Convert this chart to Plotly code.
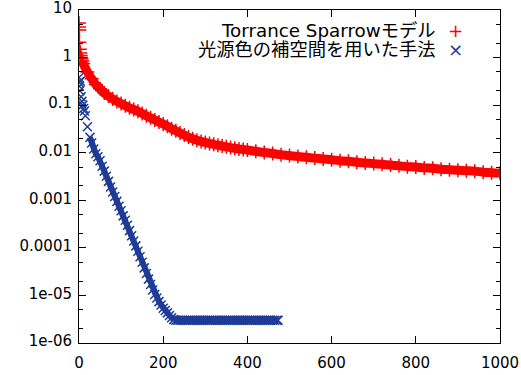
import plotly.graph_objects as go

# ---- data ----
red_x = [0, 0, 1, 1, 2, 3, 4, 5, 6, 8,
         10, 20, 30, 40, 50, 60, 70, 80, 90, 100,
         110, 120, 130, 140, 150, 160, 170, 180, 190, 200,
         210, 220, 230, 240, 250, 260, 270, 280, 290, 300,
         310, 320, 330, 340, 350, 360, 370, 380, 390, 400,
         420, 440, 460, 480, 500, 520, 540, 560, 580, 600,
         620, 640, 660, 680, 700, 720, 740, 760, 780, 800,
         820, 840, 860, 880, 900, 920, 940, 960, 980, 1000]
red_y = [5.3, 4.4, 3.8, 2.1, 1.5, 1.25, 1.1, 1.0, 0.95, 0.85,
         0.75, 0.50, 0.36, 0.27, 0.22, 0.18, 0.155, 0.135, 0.12, 0.108,
         0.097, 0.088, 0.081, 0.074, 0.067, 0.060, 0.054, 0.049, 0.044, 0.040,
         0.036, 0.032, 0.029, 0.026, 0.0235, 0.0213, 0.0196, 0.0183, 0.0173, 0.0164,
         0.0157, 0.0150, 0.0144, 0.0138, 0.0133, 0.0128, 0.0124, 0.0120, 0.0117, 0.0114,
         0.0107, 0.0101, 0.0096, 0.0091, 0.0087, 0.0083, 0.0080, 0.0077, 0.0074, 0.0071,
         0.0068, 0.0066, 0.0063, 0.0061, 0.0059, 0.0057, 0.0055, 0.0053, 0.0051, 0.0050,
         0.0048, 0.0047, 0.0045, 0.0044, 0.0043, 0.0042, 0.0041, 0.0039, 0.0038, 0.0037]

blue_x = [0, 0, 1, 2, 3, 5, 7, 9, 11, 13,
          15, 20, 26, 30, 35, 40, 45, 50, 55, 60,
          65, 70, 75, 80, 85, 90, 95, 100, 105, 110,
          115, 120, 125, 130, 135, 140, 145, 150, 155, 160,
          165, 170, 175, 180, 185, 190, 195, 200, 205, 210,
          215, 220, 225, 230, 235, 240, 245, 250, 255, 260,
          265, 270, 275, 280, 285, 290, 295, 300, 305, 310,
          315, 320, 325, 330, 335, 340, 345, 350, 355, 360,
          365, 370, 375, 380, 385, 390, 395, 400, 405, 410,
          415, 420, 425, 430, 435, 440, 445, 450, 455, 460,
          465, 470, 473]
blue_y = [0.38, 0.30, 0.25, 0.20, 0.32, 0.15, 0.12, 0.10, 0.085, 0.075,
          0.06, 0.035, 0.021, 0.016, 0.012, 0.0095, 0.0082, 0.0068, 0.0052, 0.0041,
          0.0032, 0.0025, 0.0019, 0.0015, 0.0012, 0.00095, 0.00075, 0.0006, 0.00047, 0.00038,
          0.0003, 0.00023, 0.00018, 0.00014, 0.00011, 8.5e-5, 6.5e-5, 5.0e-5, 3.8e-5, 2.9e-5,
          2.2e-5, 1.7e-5, 1.3e-5, 1.05e-5, 8.8e-6, 7.4e-6, 6.3e-6, 5.4e-6, 4.8e-6, 4.3e-6,
          3.8e-6, 3.4e-6, 3.1e-6, 3.0e-6, 3.0e-6, 3.0e-6, 3.0e-6, 3.0e-6, 3.0e-6, 3.0e-6,
          3.0e-6, 3.0e-6, 3.0e-6, 3.0e-6, 3.0e-6, 3.0e-6, 3.0e-6, 3.0e-6, 3.0e-6, 3.0e-6,
          3.0e-6, 3.0e-6, 3.0e-6, 3.0e-6, 3.0e-6, 3.0e-6, 3.0e-6, 3.0e-6, 3.0e-6, 3.0e-6,
          3.0e-6, 3.0e-6, 3.0e-6, 3.0e-6, 3.0e-6, 3.0e-6, 3.0e-6, 3.0e-6, 3.0e-6, 3.0e-6,
          3.0e-6, 3.0e-6, 3.0e-6, 3.0e-6, 3.0e-6, 3.0e-6, 3.0e-6, 3.0e-6, 3.0e-6, 3.0e-6,
          3.0e-6, 3.0e-6, 3.0e-6]

series_names = ["Torrance Sparrowモデル", "光源色の補空間を用いた手法"]
x_ticks = [0, 200, 400, 600, 800, 1000]
y_ticks = [1e-6, 1e-5, 1e-4, 1e-3, 1e-2, 1e-1, 1, 10]
y_tick_labels = ["1e-06", "1e-05", "0.0001", "0.001", "0.01", "0.1", "1", "10"]

RED = "#ff0000"
BLUE = "#1f3c96"
FONT = "DejaVu Sans, Noto Sans CJK JP, sans-serif"

fig = go.Figure()
# dense point cloud (band) under the markers
fig.add_trace(go.Scatter(x=red_x[9:], y=red_y[9:], mode="lines",
                         line=dict(color=RED, width=9, shape="spline"),
                         hoverinfo="skip", showlegend=False))
fig.add_trace(go.Scatter(x=red_x, y=red_y, mode="markers", name=series_names[0],
                         marker=dict(symbol="cross-thin", size=10, color=RED,
                                     line=dict(color=RED, width=1.5)),
                         showlegend=False))
fig.add_trace(go.Scatter(x=blue_x[52:], y=blue_y[52:], mode="lines",
                         line=dict(color=BLUE, width=8),
                         hoverinfo="skip", showlegend=False))
fig.add_trace(go.Scatter(x=blue_x[12:53], y=blue_y[12:53], mode="lines",
                         line=dict(color=BLUE, width=6),
                         hoverinfo="skip", showlegend=False))
fig.add_trace(go.Scatter(x=blue_x, y=blue_y, mode="markers", name=series_names[1],
                         marker=dict(symbol="x-thin", size=9, color=BLUE,
                                     line=dict(color=BLUE, width=1.5)),
                         showlegend=False))

# gnuplot-style legend: text right aligned, symbol to the right
LEG = 18.3
fig.add_annotation(xref="paper", yref="paper", x=0.852, y=0.937, xanchor="right", yanchor="middle",
                   text=series_names[0], showarrow=False, font=dict(family=FONT, size=LEG, color="black"))
fig.add_annotation(xref="paper", yref="paper", x=0.895, y=0.937, xanchor="center", yanchor="middle",
                   text="+", showarrow=False, font=dict(family=FONT, size=LEG, color=RED))
fig.add_annotation(xref="paper", yref="paper", x=0.852, y=0.880, xanchor="right", yanchor="middle",
                   text=series_names[1], showarrow=False, font=dict(family=FONT, size=LEG, color="black"))
fig.add_annotation(xref="paper", yref="paper", x=0.895, y=0.880, xanchor="center", yanchor="middle",
                   text="×", showarrow=False, font=dict(family=FONT, size=LEG, color=BLUE))

minor_vals = []
for e in range(-6, 1):
    minor_vals += [2 * 10 ** e, 5 * 10 ** e]

fig.update_layout(
    width=521, height=375,
    margin=dict(l=79, r=21, t=10, b=32, autoexpand=False),
    paper_bgcolor="white", plot_bgcolor="white",
    font=dict(family=FONT, size=15, color="black"),
    showlegend=False,
)
fig.update_xaxes(range=[0, 1000], tickvals=x_ticks, ticks="inside", ticklen=7,
                 tickcolor="black", showline=True, linecolor="black", linewidth=1,
                 mirror="ticks", showgrid=False, zeroline=False, automargin=False,
                 ticklabelstandoff=6, ticklabeloverflow="allow",
                 tickfont=dict(family=FONT, size=15, color="black"))
fig.update_yaxes(type="log", range=[-6, 1], tickvals=y_ticks, ticktext=y_tick_labels,
                 ticks="inside", ticklen=7, tickcolor="black", showline=True,
                 linecolor="black", linewidth=1, mirror="ticks", showgrid=False,
                 zeroline=False, automargin=False, ticklabelstandoff=3,
                 ticklabelshift=-2, ticklabeloverflow="allow",
                 tickfont=dict(family=FONT, size=15, color="black"),
                 minor=dict(tickvals=minor_vals, ticks="inside", ticklen=4,
                            tickcolor="black", showgrid=False))

# remove the browser's default 8px page margin so the figure fills the window
fig.write_html("out.html", config={"displayModeBar": False},
               post_script="document.body.style.margin='0';")
